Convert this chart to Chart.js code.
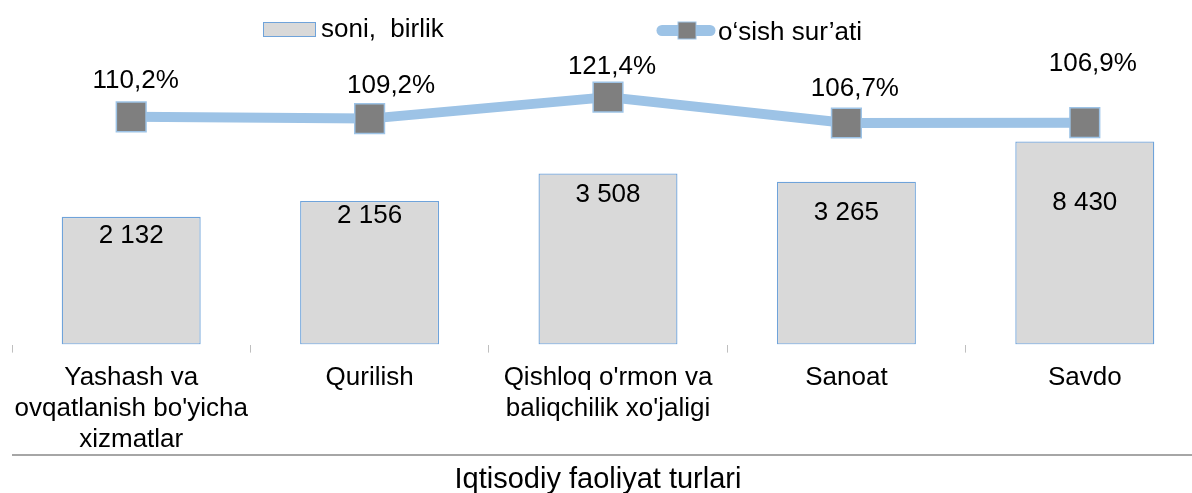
<!DOCTYPE html>
<html>
<head>
<meta charset="utf-8">
<script src="https://cdn.jsdelivr.net/npm/chart.js@4.4.1/dist/chart.umd.min.js"></script>
<style>
  html, body { margin: 0; padding: 0; background: #fff; overflow: hidden; }
  #wrap { width: 1204px; height: 493px; position: relative; }
</style>
</head>
<body>
<div id="wrap"><canvas id="chart"></canvas></div>
<script>
let categories = [
  ["Yashash va", "ovqatlanish bo'yicha", "xizmatlar"],
  "Qurilish",
  ["Qishloq o'rmon va", "baliqchilik xo'jaligi"],
  "Sanoat",
  "Savdo"
];
// printed numbers on the bars
let soniValues = [2132, 2156, 3508, 3265, 8430];
// the bars in the picture are not to scale with their numbers, heights read off the picture (0-100)
let soniBars = [44.9, 50.5, 60.1, 57.2, 71.4];
let osishValues = [110.2, 109.2, 121.4, 106.7, 106.9];

let fontFamily = '"Liberation Sans", Arial, sans-serif';
Chart.defaults.font.family = fontFamily;
Chart.defaults.color = '#000';

function fmtSoni(v) {
  return String(v).replace(/\B(?=(\d{3})+(?!\d))/g, ' ');
}
function fmtPct(v) {
  return v.toFixed(1).replace('.', ',') + '%';
}

// label nudges, like the hand-placed labels of the original
let barLabelDy = [19, 15, 21.5, 31, 61];
let lineLabelDx = [4.5, 21.5, 4, 8.5, 8];
let lineLabelDy = [-36.5, -33, -30.5, -34, -58.5];

const extras = {
  id: 'extras',
  afterDatasetsDraw(chart) {
    const ctx = chart.ctx;
    ctx.save();
    ctx.font = '26px ' + fontFamily;
    ctx.fillStyle = '#000';
    ctx.textAlign = 'center';
    ctx.textBaseline = 'middle';
    chart.getDatasetMeta(0).data.forEach((bar, i) => {
      ctx.fillText(fmtSoni(soniValues[i]), bar.x, bar.y + barLabelDy[i]);
    });
    chart.getDatasetMeta(1).data.forEach((pt, i) => {
      ctx.fillText(fmtPct(osishValues[i]), pt.x + lineLabelDx[i], pt.y + lineLabelDy[i]);
    });

    //Legend
    ctx.textAlign = 'left';
    ctx.textBaseline = 'alphabetic';
    ctx.fillStyle = '#d9d9d9';
    ctx.fillRect(263.5, 22.5, 52, 14);
    ctx.strokeStyle = '#6fa3da';
    ctx.lineWidth = 1;
    ctx.strokeRect(263.5, 22.5, 52, 14);
    ctx.fillStyle = '#000';
    ctx.fillText('soni,  birlik', 321, 37);

    ctx.strokeStyle = '#9dc3e6';
    ctx.lineWidth = 11;
    ctx.lineCap = 'round';
    ctx.beginPath();
    ctx.moveTo(662, 30.5);
    ctx.lineTo(710, 30.5);
    ctx.stroke();
    ctx.fillStyle = '#7f7f7f';
    ctx.fillRect(678, 22, 18, 17);
    ctx.strokeStyle = '#9dc3e6';
    ctx.lineWidth = 1;
    ctx.strokeRect(678, 22, 18, 17);
    ctx.fillStyle = '#000';
    ctx.fillText('o\u2018sish sur\u2019ati', 718, 40);

    //separator + axis title
    const area = chart.chartArea;
    ctx.strokeStyle = '#a6a6a6';
    ctx.lineWidth = 2;
    ctx.lineCap = 'butt';
    ctx.beginPath();
    ctx.moveTo(area.left, 455);
    ctx.lineTo(area.right, 455);
    ctx.stroke();
    ctx.font = '29px ' + fontFamily;
    ctx.textAlign = 'center';
    ctx.fillText('Iqtisodiy faoliyat turlari', 598, 488);
    ctx.restore();
  }
};

new Chart('chart', {
  data: {
    labels: categories,
    datasets: [
      {
        type: 'bar',
        label: 'soni,  birlik',
        data: soniBars,
        yAxisID: 'y',
        backgroundColor: '#d9d9d9',
        borderColor: '#6fa3da',
        borderWidth: 1.3,
        borderSkipped: false,
        categoryPercentage: 1,
        barPercentage: 0.583,
        order: 2
      },
      {
        type: 'line',
        label: 'o\u2018sish sur\u2019ati',
        data: osishValues,
        yAxisID: 'y2',
        borderColor: '#9dc3e6',
        borderWidth: 10,
        borderJoinStyle: 'round',
        pointStyle: 'rect',
        pointRadius: 21,
        pointBackgroundColor: '#7f7f7f',
        pointBorderColor: '#9dc3e6',
        pointBorderWidth: 1.5,
        tension: 0,
        order: 1
      }
    ]
  },
  options: {
    responsive: true,
    maintainAspectRatio: false,
    animation: false,
    layout: { autoPadding: false, padding: { top: 60, left: 12, right: 0, bottom: 28 } },
    plugins: {
      legend: { display: false },
      tooltip: { enabled: false }
    },
    scales: {
      x: {
        offset: true,
        border: { display: false },
        grid: {
          offset: true,
          drawOnChartArea: false,
          drawTicks: true,
          tickLength: 8,
          color: '#bfbfbf'
        },
        ticks: {
          padding: 9,
          color: '#000',
          maxRotation: 0,
          autoSkip: false,
          font: { size: 26, lineHeight: 1.21 }
        }
      },
      y: { display: false, min: 0, max: 100 },
      y2: { display: false, min: -19.2, max: 142.5 }
    }
  },
  plugins: [extras]
});
</script>
</body>
</html>
